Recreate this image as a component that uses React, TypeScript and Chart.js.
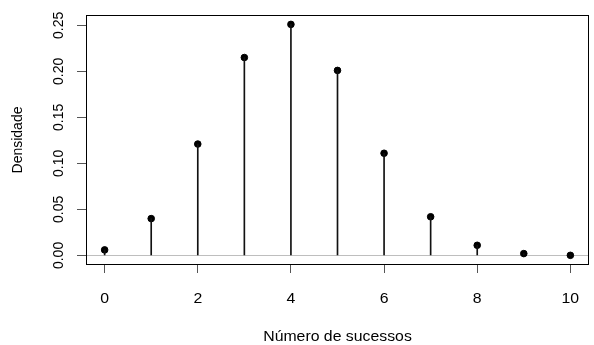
import React, { useEffect, useRef } from "react";
import { Chart, registerables } from "chart.js";

Chart.register(...registerables);

const successes = [0, 1, 2, 3, 4, 5, 6, 7, 8, 9, 10];
const density = [0.006, 0.040, 0.121, 0.215, 0.251, 0.201, 0.111, 0.042, 0.011, 0.002, 0.0001];
const xTicks = [0, 2, 4, 6, 8, 10];
const yTicks = [0, 0.05, 0.1, 0.15, 0.2, 0.25];
const xTitle = "Número de sucessos";
const yTitle = "Densidade";

const FONT = '14px "Liberation Sans", Arial, sans-serif';
const HSTRETCH = 1.13;

const rPlot = {
  id: "rPlot",
  beforeDatasetsDraw(chart: any) {
    const { ctx, chartArea, scales } = chart;
    const y0 = Math.round(scales.y.getPixelForValue(0)) + 0.5;
    ctx.save();
    ctx.strokeStyle = "#bebebe";
    ctx.lineWidth = 1;
    ctx.beginPath();
    ctx.moveTo(chartArea.left, y0);
    ctx.lineTo(chartArea.right, y0);
    ctx.stroke();
    ctx.restore();
  },
  afterDraw(chart: any) {
    const { ctx, chartArea, scales } = chart;
    ctx.save();
    ctx.strokeStyle = "#000";
    ctx.lineWidth = 1;
    const l = Math.round(chartArea.left) + 0.5;
    const t = Math.round(chartArea.top) + 0.5;
    const r = Math.round(chartArea.right) - 0.5;
    const b = Math.round(chartArea.bottom) - 0.5;
    ctx.strokeRect(l, t, r - l, b - t);

    ctx.fillStyle = "#000";
    ctx.font = FONT;
    ctx.textAlign = "center";
    ctx.textBaseline = "middle";
    const hText = (s: string, x: number, y: number) => {
      ctx.save();
      ctx.translate(x, y);
      ctx.scale(HSTRETCH, 1);
      ctx.fillText(s, 0, 0);
      ctx.restore();
    };
    xTicks.forEach((v) => hText(String(v), scales.x.getPixelForValue(v), 299));
    hText(xTitle, (chartArea.left + chartArea.right) / 2, 337);

    const vText = (s: string, x: number, y: number) => {
      ctx.save();
      ctx.translate(x, y);
      ctx.rotate(-Math.PI / 2);
      ctx.fillText(s, 0, 0);
      ctx.restore();
    };
    yTicks.forEach((v) => vText(v.toFixed(2), 59, scales.y.getPixelForValue(v)));
    vText(yTitle, 18.5, (chartArea.top + chartArea.bottom) / 2);
    ctx.restore();
  },
};

export default function App() {
  const ref = useRef<HTMLCanvasElement>(null);
  useEffect(() => {
    if (!ref.current) return;
    const pts = successes.map((x, i) => ({ x, y: density[i] }));
    const chart = new Chart(ref.current, {
      type: "scatter",
      data: {
        datasets: [
          {
            type: "bar",
            data: pts,
            backgroundColor: "#111",
            barThickness: 1,
            borderWidth: 0,
          } as any,
          {
            type: "scatter",
            data: pts,
            pointRadius: 3.3,
            pointBorderWidth: 1,
            pointBackgroundColor: "#000",
            pointBorderColor: "#000",
          },
        ],
      },
      plugins: [rPlot],
      options: {
        animation: false,
        responsive: false,
        maintainAspectRatio: false,
        layout: { padding: { top: 15, right: 1, left: 0, bottom: 0 } },
        plugins: { legend: { display: false }, tooltip: { enabled: false } },
        scales: {
          x: {
            type: "linear",
            offset: false,
            min: -0.4,
            max: 10.4,
            afterBuildTicks: (s: any) => {
              s.ticks = xTicks.map((v) => ({ value: v }));
            },
            afterFit: (s: any) => {
              s.height = 80;
            },
            ticks: { display: false },
            grid: { offset: false, drawOnChartArea: false, drawTicks: true, tickLength: 8, color: "#555", lineWidth: 1 },
            border: { display: false },
          },
          y: {
            type: "linear",
            min: -0.0104,
            max: 0.2612,
            afterBuildTicks: (s: any) => {
              s.ticks = yTicks.map((v) => ({ value: v }));
            },
            afterFit: (s: any) => {
              s.width = 86;
            },
            ticks: { display: false },
            grid: { drawOnChartArea: false, drawTicks: true, tickLength: 9, color: "#555", lineWidth: 1 },
            border: { display: false },
          },
        },
      },
    });
    return () => chart.destroy();
  }, []);
  return (
    <div style={{ position: "fixed", left: 0, top: 0, width: 594, height: 345, background: "#fff" }}>
      <canvas ref={ref} width={594} height={345} style={{ width: 594, height: 345 }} />
    </div>
  );
}
